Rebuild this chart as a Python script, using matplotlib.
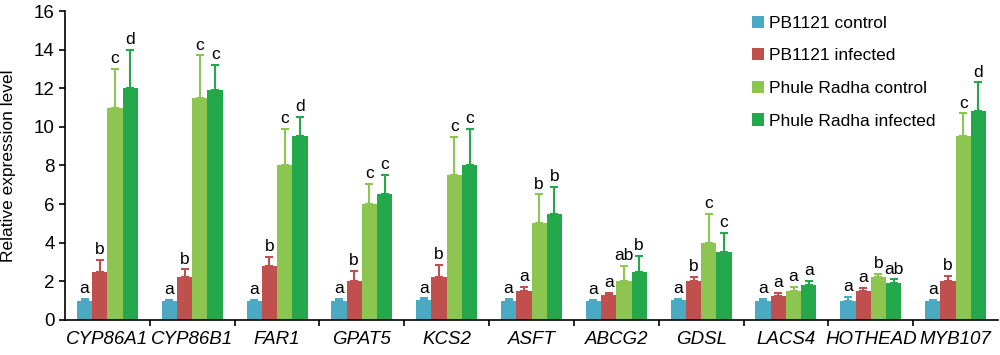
import numpy as np
import matplotlib.pyplot as plt

plt.rcParams['font.family'] = ['Liberation Sans', 'DejaVu Sans']

genes = ['CYP86A1', 'CYP86B1', 'FAR1', 'GPAT5', 'KCS2', 'ASFT',
         'ABCG2', 'GDSL', 'LACS4', 'HOTHEAD', 'MYB107']
series = ['PB1121 control', 'PB1121 infected',
          'Phule Radha control', 'Phule Radha infected']

pb_control = [1.0, 1.0, 1.0, 1.0, 1.03, 1.0, 1.0, 1.03, 1.0, 1.0, 1.0]
pb_infected = [2.5, 2.2, 2.8, 2.0, 2.23, 1.52, 1.31, 2.02, 1.24, 1.52, 2.02]
pr_control = [11.0, 11.5, 8.0, 6.0, 7.5, 5.0, 2.0, 4.0, 1.52, 2.23, 9.55]
pr_infected = [12.0, 11.9, 9.5, 6.5, 8.0, 5.5, 2.5, 3.5, 1.81, 1.9, 10.8]

pb_control_err = [0.08, 0.05, 0.05, 0.07, 0.08, 0.08, 0.04, 0.05, 0.07, 0.2, 0.05]
pb_infected_err = [0.6, 0.42, 0.48, 0.53, 0.62, 0.2, 0.1, 0.22, 0.14, 0.15, 0.24]
pr_control_err = [2.0, 2.2, 1.9, 1.03, 1.97, 1.5, 0.8, 1.5, 0.2, 0.17, 1.15]
pr_infected_err = [2.0, 1.3, 1.0, 1.0, 1.9, 1.4, 0.8, 1.0, 0.21, 0.2, 1.5]

pb_control_sig = ['a'] * 11
pb_infected_sig = ['b', 'b', 'b', 'b', 'b', 'a', 'a', 'b', 'a', 'a', 'b']
pr_control_sig = ['c', 'c', 'c', 'c', 'c', 'b', 'ab', 'c', 'a', 'b', 'c']
pr_infected_sig = ['d', 'c', 'd', 'c', 'c', 'b', 'b', 'c', 'a', 'ab', 'd']

colors = ['#4aa9c3', '#c0504d', '#8dc551', '#23a84b']

values = [pb_control, pb_infected, pr_control, pr_infected]
errors = [pb_control_err, pb_infected_err, pr_control_err, pr_infected_err]
letters = [pb_control_sig, pb_infected_sig, pr_control_sig, pr_infected_sig]

fig = plt.figure(figsize=(10, 3.55), dpi=100)
ax = fig.add_axes([0.065, 0.099, 0.933, 0.87])

x = np.arange(len(genes))
width = 0.18
for i, (vals, errs, sig, col) in enumerate(zip(values, errors, letters, colors)):
    pos = x + (i - 1.5) * width
    ax.bar(pos, vals, width, color=col, label=series[i], zorder=2)
    ax.errorbar(pos, vals, yerr=[np.zeros(len(errs)), errs], fmt='none',
                ecolor=col, elinewidth=1.5, capsize=3.2, capthick=1.5, zorder=1)
    for p, v, e, s in zip(pos, vals, errs, sig):
        ax.annotate(s, (p, v + e), xytext=(0, 2), textcoords='offset points',
                    ha='center', va='bottom', fontsize=12.5)

ax.set_xlim(-0.5, len(genes) - 0.5)
ax.set_ylim(0, 16)
ax.set_yticks(np.arange(0, 17, 2))
ax.set_xticks(x)
ax.set_xticklabels(genes, fontstyle='italic', fontsize=13.5)
ax.set_xticks(np.arange(0.5, len(genes) - 0.5, 1), minor=True)
ax.tick_params(axis='x', which='major', length=0, pad=8)
ax.tick_params(axis='x', which='minor', length=4, width=1.2, direction='out')
ax.tick_params(axis='y', labelsize=13.5, length=4, width=1.2, direction='out')
ax.set_ylabel('Relative expression level', fontsize=12.5)
ax.yaxis.set_label_coords(-0.053, 0.5)

for side in ['top', 'right']:
    ax.spines[side].set_visible(False)
for side in ['left', 'bottom']:
    ax.spines[side].set_linewidth(1.2)

ax.legend(loc='upper left', bbox_to_anchor=(0.72, 1.035), frameon=False,
          fontsize=12.5, handlelength=0.65, handleheight=0.7, handletextpad=0.3,
          labelspacing=1.0)

fig.savefig('out.png', dpi=100)
